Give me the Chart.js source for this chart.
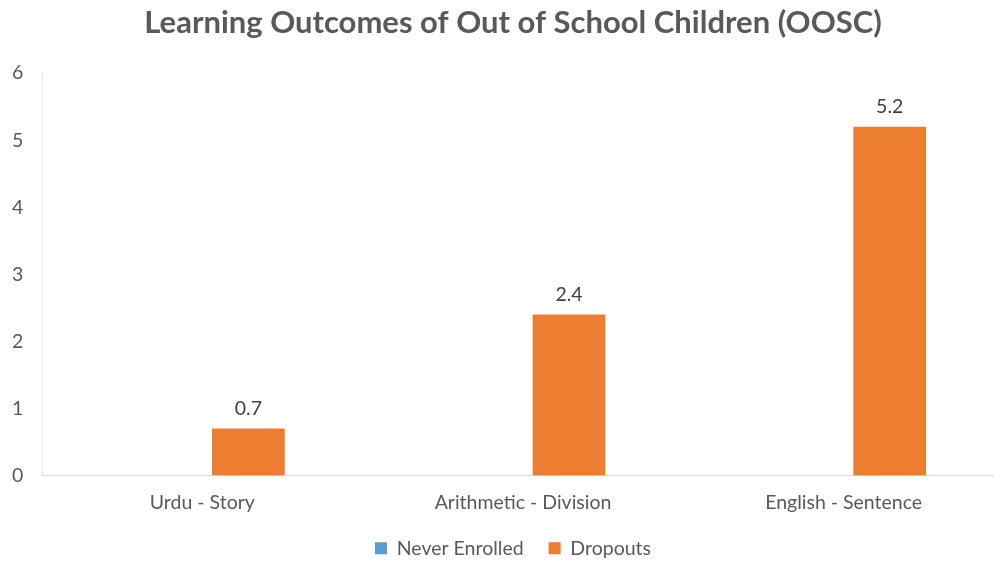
<!DOCTYPE html>
<html>
<head>
<meta charset="utf-8">
<script src="https://cdn.jsdelivr.net/npm/chart.js@4"></script>
<style>
  html, body { margin: 0; padding: 0; background: #fff; overflow: hidden; }
  #wrap { width: 1026px; height: 561px; }
</style>
</head>
<body>
<div id="wrap"><canvas id="oosc"></canvas></div>
<script>
// data
var categories = ["Urdu - Story", "Arithmetic - Division", "English - Sentence"];
var neverEnrolled = [0, 0, 0];
var dropouts = [0.7, 2.4, 5.2];
var yTicks = [0, 1, 2, 3, 4, 5, 6];

var fontName = "Lato, 'Open Sans', sans-serif";
var grey = "#595959";
var textSize = 19.5;

// draws value labels above the Dropouts bars
var valueLabels = {
  id: "valueLabels",
  afterDatasetsDraw: function (chart) {
    var ctx = chart.ctx;
    var meta = chart.getDatasetMeta(1);
    ctx.save();
    ctx.font = textSize + "px " + fontName;
    ctx.fillStyle = "#404040";
    ctx.textAlign = "center";
    ctx.textBaseline = "alphabetic";
    meta.data.forEach(function (bar, i) {
      ctx.fillText(String(dropouts[i]), bar.x, bar.y - 14);
    });
    ctx.restore();
  },
};

var ctx = document.getElementById("oosc").getContext("2d");
var ooscChart = new Chart(ctx, {
  type: "bar",
  data: {
    labels: categories,
    datasets: [
      {
        label: "Never Enrolled",
        data: neverEnrolled,
        backgroundColor: "#5b9bd5",
        categoryPercentage: 0.574,
        barPercentage: 0.79,
      },
      {
        label: "Dropouts",
        data: dropouts,
        backgroundColor: "#ed7d31",
        categoryPercentage: 0.574,
        barPercentage: 0.79,
      },
    ],
  },
  options: {
    responsive: true,
    maintainAspectRatio: false,
    animation: false,
    layout: { padding: { left: 22, right: 22, top: 0, bottom: -7 } },
    plugins: {
      title: {
        display: true,
        text: "Learning Outcomes of Out of School Children (OOSC)",
        color: grey,
        font: { family: fontName, size: 31, weight: "bold" },
        padding: { top: 4, bottom: 32 },
      },
      legend: {
        position: "bottom",
        labels: {
          color: grey,
          font: { family: fontName, size: textSize },
          boxWidth: 12,
          boxHeight: 12,
          padding: 25,
        },
      },
      tooltip: { enabled: false },
    },
    scales: {
      x: {
        grid: { display: false, drawTicks: false },
        border: { display: true, color: "#d9d9d9", width: 1 },
        ticks: { color: grey, font: { family: fontName, size: textSize }, padding: 16 },
        afterFit: function (scale) {
          scale.height = 38;
        },
      },
      y: {
        min: yTicks[0],
        max: yTicks[yTicks.length - 1],
        grid: { display: false, drawTicks: false },
        border: { display: true, color: "#e6e6e6", width: 1 },
        // mirrored so the labels are not clipped to the narrow axis box
        ticks: { stepSize: 1, mirror: true, padding: -30, color: grey, font: { family: fontName, size: textSize } },
        afterFit: function (scale) {
          scale.width = 20;
        },
      },
    },
  },
  plugins: [valueLabels],
});
</script>
</body>
</html>
